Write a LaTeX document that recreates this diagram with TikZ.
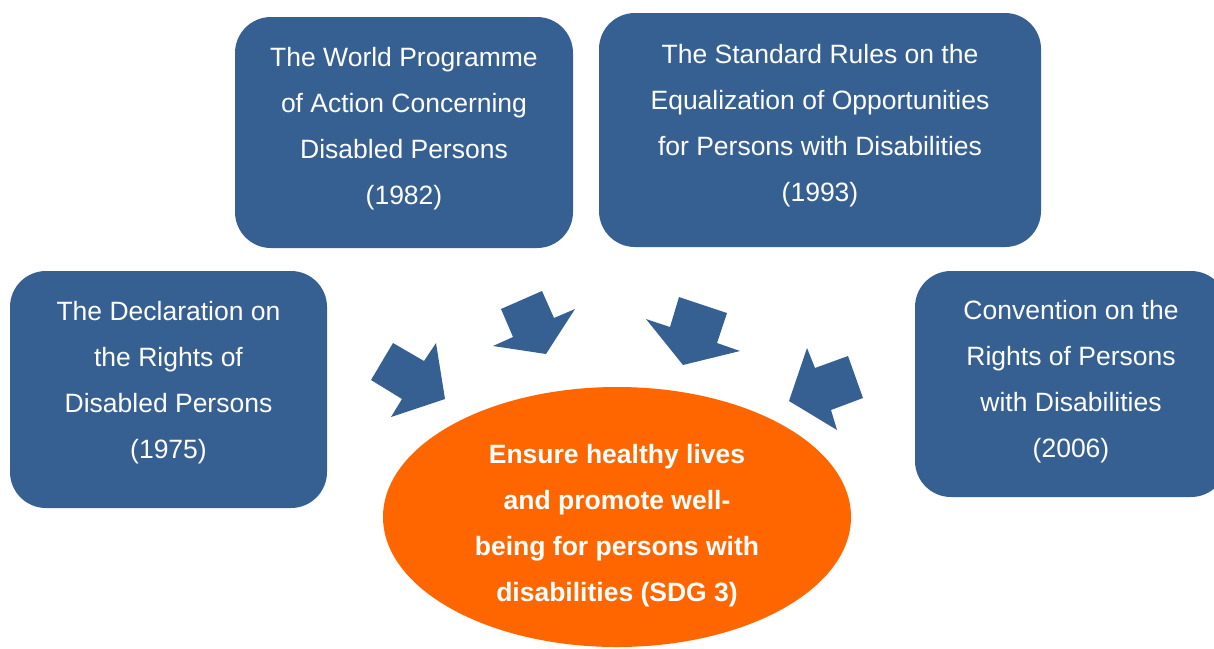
\documentclass[tikz,border=0pt]{standalone}
\usepackage{fontspec}
\setmainfont{Liberation Sans}
\usetikzlibrary{shapes.geometric}
\definecolor{docblue}{HTML}{366092}
\definecolor{sdgorange}{HTML}{FF6600}
\tikzset{
	docbox/.style={fill=docblue, rounded corners=36pt, inner sep=0pt},
	doctext/.style={text=white, align=center, font=\fontsize{26.5}{46}\selectfont},
	sdgtext/.style={doctext, font=\fontsize{26.5}{46}\selectfont\bfseries},
	blockarrow/.style={fill=docblue}
}
\begin{document}
\begin{tikzpicture}[x=1pt, y=-1pt]
		%%%%% START %%%%%
		\useasboundingbox (0, 0) rectangle (1214, 648);
		
		\node[docbox, minimum width=317pt, minimum height=237pt] (decl) at (168.5, 389.5) {};
		\node[doctext] (decltext) at (168.5, 382.5) {The Declaration on\\the Rights of\\Disabled Persons\\(1975)};
		
		\node[docbox, minimum width=338pt, minimum height=231pt] (wpa) at (404, 132.5) {};
		\node[doctext] (wpatext) at (404, 129) {The World Programme\\of Action Concerning\\Disabled Persons\\(1982)};
		
		\node[docbox, minimum width=442pt, minimum height=234pt] (rules) at (820, 130) {};
		\node[doctext] (rulestext) at (820, 126) {The Standard Rules on the\\Equalization of Opportunities\\for Persons with Disabilities\\(1993)};
		
		\node[docbox, minimum width=312pt, minimum height=226pt] (crpd) at (1071, 384) {};
		\node[doctext] (crpdtext) at (1071, 382) {Convention on the\\Rights of Persons\\with Disabilities\\(2006)};
		
		\node[ellipse, fill=sdgorange, inner sep=0pt, minimum width=468pt, minimum height=260pt] (sdg) at (617, 517) {};
		\node[sdgtext] (sdgtext) at (617, 526) {Ensure healthy lives\\and promote well-\\being for persons with\\disabilities (SDG 3)};
		
		% block arrows
		\fill[blockarrow] (393, 343) -- (424, 361) -- (436, 343) -- (445, 399) -- (391, 417) -- (402, 399) -- (371, 380) -- cycle;
		\fill[blockarrow] (501, 309) -- (542, 291) -- (554, 318) -- (575, 309) -- (546, 354) -- (493, 346) -- (513, 337) -- cycle;
		\fill[blockarrow] (679, 297) -- (727, 313) -- (717, 343) -- (740, 351) -- (683, 365) -- (646, 319) -- (670, 327) -- cycle;
		\fill[blockarrow] (848, 356) -- (863, 398) -- (831, 410) -- (837, 430) -- (789, 401) -- (807, 348) -- (815, 368) -- cycle;
		%%%%% END %%%%%
\end{tikzpicture}
\end{document}
